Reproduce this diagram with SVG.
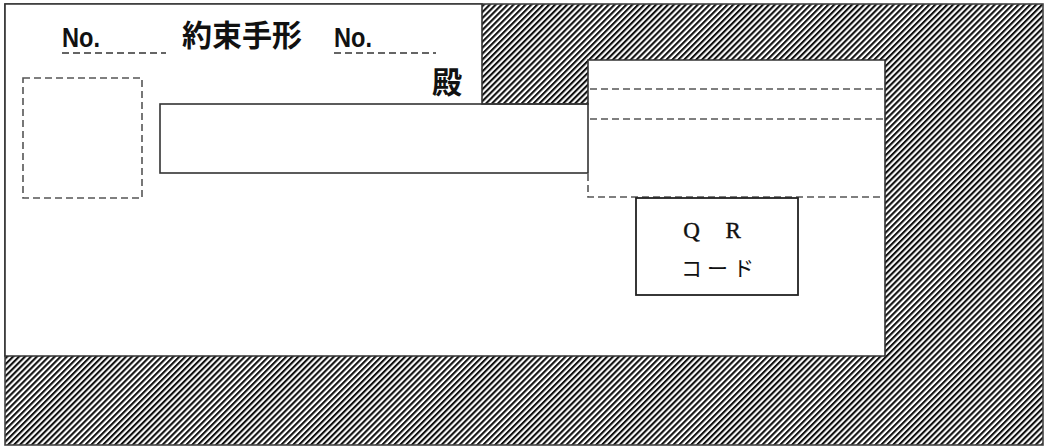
<svg xmlns="http://www.w3.org/2000/svg" width="1045" height="447" viewBox="0 0 1045 447">
<defs>
<pattern id="hatch" patternUnits="userSpaceOnUse" width="4.2" height="4.2" patternTransform="rotate(-45)">
<rect x="0" y="0" width="4.2" height="4.2" fill="#fff"/>
<rect x="0" y="0" width="4.2" height="2.1" fill="#111"/>
</pattern>
<style>
.solid{fill:none;stroke:#333;stroke-width:1.6}
.dash{fill:none;stroke:#555;stroke-width:1.6;stroke-dasharray:7 4}
.udash{fill:none;stroke:#333;stroke-width:1.6;stroke-dasharray:7 4}
.gothic{font-family:"Liberation Sans","Noto Sans CJK JP",sans-serif;fill:#111}
.cjk{font-family:"Noto Sans CJK JP",sans-serif;fill:#111}
.mincho{font-family:"Liberation Serif","Noto Sans CJK JP",serif;fill:#111}
</style>
</defs>
<rect width="1045" height="447" fill="#fff"/>
<g id="frame">
<rect x="5" y="4" width="1038" height="441" fill="url(#hatch)" stroke="#444" stroke-width="1.6"/>
<path d="M5,4 H482 V104 H588 V60 H885 V356 H5 Z" fill="#fff" stroke="#333" stroke-width="1.6"/>
</g>
<g id="title">
<text class="gothic" x="62" y="47" font-size="27" font-weight="bold" textLength="38" lengthAdjust="spacingAndGlyphs">No.</text>
<line class="udash" x1="62" y1="53" x2="166" y2="53"/>
<text class="cjk" x="182" y="46" font-size="30" font-weight="bold">約束手形</text>
<text class="gothic" x="334" y="47" font-size="27" font-weight="bold" textLength="38" lengthAdjust="spacingAndGlyphs">No.</text>
<line class="udash" x1="334" y1="53" x2="436" y2="53"/>
<text class="cjk" x="432" y="93" font-size="30" font-weight="bold">殿</text>
</g>
<g id="stamp-box">
<rect class="dash" x="23" y="78" width="119" height="120"/>
</g>
<g id="name-box">
<rect class="solid" x="160" y="104" width="428" height="69" fill="#fff"/>
</g>
<g id="right-box">
<line class="dash" x1="590" y1="89" x2="884" y2="89"/>
<line class="dash" x1="590" y1="119" x2="884" y2="119"/>
<path class="dash" d="M588,174 V197 H884"/>
</g>
<g id="qr-box">
<rect x="636" y="198" width="162" height="97" fill="#fff" stroke="#222" stroke-width="1.8"/>
<text class="mincho" x="712" y="238" font-size="23" text-anchor="middle" word-spacing="20" stroke="#111" stroke-width="0.4">Q R</text>
<text class="cjk" x="720" y="276" font-size="21" text-anchor="middle" letter-spacing="5">コード</text>
</g>
</svg>
